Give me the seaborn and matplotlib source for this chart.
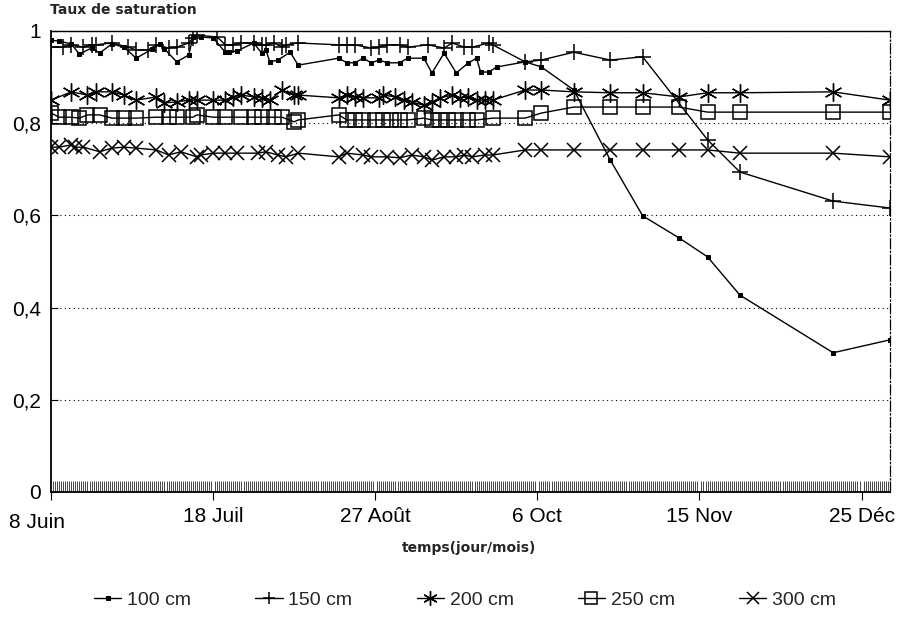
import numpy as np
import pandas as pd
import seaborn as sns
from matplotlib import pyplot as plt
from matplotlib import transforms
from matplotlib.ticker import MultipleLocator, FixedLocator

# jours depuis le 8 juin
days_100 = [0, 2, 5, 7, 10, 12, 15, 18, 21, 25, 27, 28, 31, 34, 35, 37, 40, 43, 44, 46,
            50, 52, 53, 54, 56, 59, 61, 71, 73, 75, 77, 79, 81, 83, 86, 88, 92, 94, 97, 100,
            103, 105, 106, 108, 110, 117, 121, 129, 138, 146, 155, 162, 170, 193, 207]
sat_100 = [0.980, 0.978, 0.972, 0.950, 0.963, 0.952, 0.972, 0.965, 0.941, 0.961,
           0.972, 0.961, 0.933, 0.948, 0.987, 0.987, 0.985, 0.954, 0.954, 0.957,
           0.974, 0.952, 0.959, 0.933, 0.937, 0.954, 0.926, 0.941, 0.931, 0.931,
           0.941, 0.931, 0.937, 0.931, 0.931, 0.941, 0.941, 0.909, 0.952, 0.909,
           0.931, 0.941, 0.911, 0.911, 0.922, 0.933, 0.922, 0.872, 0.720, 0.599,
           0.551, 0.510, 0.427, 0.302, 0.330]

days_150 = [0, 3, 5, 8, 10, 11, 15, 19, 21, 24, 26, 29, 31, 34, 35, 36, 41, 43, 45, 47,
            50, 52, 53, 55, 57, 58, 61, 71, 73, 75, 79, 81, 83, 86, 88, 93, 97, 99, 102, 104,
            108, 109, 117, 121, 129, 138, 146, 162, 170, 193, 207]
sat_150 = [0.965, 0.965, 0.970, 0.965, 0.970, 0.970, 0.974, 0.965, 0.959, 0.959,
           0.970, 0.963, 0.965, 0.974, 0.985, 0.991, 0.987, 0.970, 0.970, 0.974,
           0.974, 0.970, 0.970, 0.974, 0.965, 0.970, 0.974, 0.970, 0.970, 0.970,
           0.963, 0.965, 0.970, 0.970, 0.965, 0.970, 0.963, 0.974, 0.965, 0.965,
           0.974, 0.970, 0.933, 0.937, 0.954, 0.937, 0.944, 0.764, 0.694, 0.631,
           0.616]

days_200 = [0, 5, 9, 11, 15, 18, 21, 26, 28, 31, 34, 36, 40, 43, 45, 47, 50, 52, 54, 57,
            60, 61, 71, 73, 75, 77, 81, 82, 85, 87, 89, 92, 94, 96, 99, 101, 103, 105, 107, 109,
            117, 121, 129, 138, 146, 155, 162, 170, 193, 207]
sat_200 = [0.850, 0.868, 0.861, 0.868, 0.868, 0.861, 0.850, 0.857, 0.844, 0.846,
           0.850, 0.850, 0.850, 0.850, 0.857, 0.861, 0.857, 0.855, 0.850, 0.872,
           0.861, 0.861, 0.855, 0.861, 0.857, 0.855, 0.855, 0.861, 0.857, 0.850,
           0.846, 0.839, 0.846, 0.855, 0.861, 0.855, 0.857, 0.850, 0.850, 0.850,
           0.872, 0.872, 0.868, 0.866, 0.866, 0.857, 0.866, 0.866, 0.868, 0.850]

days_250 = [0, 2, 5, 7, 9, 12, 15, 18, 21, 26, 29, 31, 35, 36, 40, 43, 47, 50, 52, 55,
            57, 60, 61, 71, 73, 75, 77, 80, 82, 84, 86, 88, 92, 94, 96, 98, 100, 103, 105, 109,
            117, 121, 129, 138, 146, 155, 162, 170, 193, 207]
sat_250 = [0.822, 0.813, 0.813, 0.811, 0.818, 0.818, 0.811, 0.811, 0.811, 0.813,
           0.813, 0.813, 0.813, 0.818, 0.813, 0.813, 0.813, 0.813, 0.813, 0.813,
           0.813, 0.803, 0.807, 0.818, 0.807, 0.807, 0.807, 0.807, 0.807, 0.807,
           0.807, 0.807, 0.811, 0.807, 0.807, 0.807, 0.807, 0.807, 0.807, 0.811,
           0.811, 0.822, 0.835, 0.835, 0.835, 0.835, 0.824, 0.824, 0.824, 0.824]

days_300 = [0, 2, 5, 6, 8, 12, 15, 18, 21, 26, 29, 32, 36, 37, 40, 43, 46, 51, 53, 56,
            58, 61, 71, 73, 77, 79, 83, 86, 89, 92, 94, 97, 100, 102, 104, 107, 109,
            117, 121, 129, 138, 146, 155, 162, 170, 193, 207]
sat_300 = [0.748, 0.748, 0.753, 0.748, 0.748, 0.738, 0.746, 0.748, 0.746, 0.742,
           0.731, 0.738, 0.727, 0.731, 0.735, 0.735, 0.735, 0.735, 0.738, 0.731,
           0.727, 0.735, 0.727, 0.735, 0.731, 0.727, 0.727, 0.725, 0.731, 0.727,
           0.720, 0.727, 0.727, 0.731, 0.727, 0.731, 0.731,
           0.742, 0.742, 0.742, 0.742, 0.742, 0.742, 0.742, 0.735, 0.735, 0.727]

depths = ["100 cm", "150 cm", "200 cm", "250 cm", "300 cm"]
tick_days = [0, 40, 80, 120, 160, 200]
tick_labels = ["8 Juin", "18 Juil", "27 Août", "6 Oct", "15 Nov", "25 Déc"]
y_ticks = [0, 0.2, 0.4, 0.6, 0.8, 1.0]
y_labels = ["0", "0,2", "0,4", "0,6", "0,8", "1"]

series = {
    "100 cm": (days_100, sat_100),
    "150 cm": (days_150, sat_150),
    "200 cm": (days_200, sat_200),
    "250 cm": (days_250, sat_250),
    "300 cm": (days_300, sat_300),
}
marker_style = {
    "100 cm": dict(marker="s", markersize=3.2, markerfacecolor="k"),
    "150 cm": dict(marker="+", markersize=11, markeredgewidth=1.1),
    "200 cm": dict(marker=(6, 2, 0), markersize=13, markeredgewidth=1.0),
    "250 cm": dict(marker="s", markersize=10, markerfacecolor="none", markeredgewidth=1.1),
    "300 cm": dict(marker="x", markersize=10, markeredgewidth=1.1),
}

sns.set_style("ticks")
plt.rcParams["font.family"] = ["Liberation Sans", "DejaVu Sans"]

fig = plt.figure(figsize=(9.03, 6.2), dpi=100)
ax = fig.add_axes([0.0565, 0.2065, 0.929, 0.7435])

for name in depths:
    d, s = series[name]
    df = pd.DataFrame({"jour": d, "taux": s})
    sns.lineplot(data=df, x="jour", y="taux", ax=ax, color="k", lw=1.0,
                 sort=False, estimator=None, label=name,
                 markeredgecolor="k", **marker_style[name])

ax.set_xlim(0, 207)
ax.set_ylim(0, 1.0)
ax.xaxis.set_major_locator(FixedLocator(tick_days))
ax.set_xticklabels(tick_labels, fontsize=15)
ax.xaxis.set_minor_locator(MultipleLocator(0.5))
ax.set_yticks(y_ticks)
ax.set_yticklabels(y_labels, fontsize=15)
ax.tick_params(axis="x", which="major", direction="out", length=6, width=0.8, pad=5, colors="k")
ax.tick_params(axis="x", which="minor", direction="in", length=8, width=0.5, colors="k")
ax.tick_params(axis="y", which="major", direction="in", length=5, width=0.8, pad=7, colors="k")
ax.yaxis.grid(True, linestyle=(0, (1, 3)), color="k", lw=0.8)
ax.xaxis.grid(False)

# premier libellé décalé vers la gauche, comme sur l'original
first = ax.get_xticklabels()[0]
first.set_transform(first.get_transform() +
                    transforms.ScaledTranslation(-0.14, -0.06, fig.dpi_scale_trans))

for side in ["left", "bottom", "top", "right"]:
    ax.spines[side].set_visible(True)
    ax.spines[side].set_color("k")
ax.spines["left"].set_linewidth(1.3)
ax.spines["bottom"].set_linewidth(1.3)
ax.spines["top"].set_linewidth(1.0)
ax.spines["right"].set_linewidth(0.9)
ax.spines["right"].set_linestyle((0, (8, 2, 1, 2)))

ax.set_xlabel("")
ax.set_ylabel("")
fig.text(0.52, 0.116, "temps(jour/mois)", fontsize=10, fontweight="bold",
         family="DejaVu Sans", ha="center", va="center")
fig.text(0.055, 0.984, "Taux de saturation", fontsize=10, fontweight="bold",
         family="DejaVu Sans", ha="left", va="center")

handles, labels = ax.get_legend_handles_labels()
ax.get_legend().remove()
fig.legend(handles, labels, loc="center", bbox_to_anchor=(0.515, 0.032), ncol=5,
           frameon=False, fontsize=14, handlelength=1.4, handletextpad=0.3,
           columnspacing=3.3, markerscale=0.8)

fig.savefig("out.png", dpi=100, facecolor="white")
